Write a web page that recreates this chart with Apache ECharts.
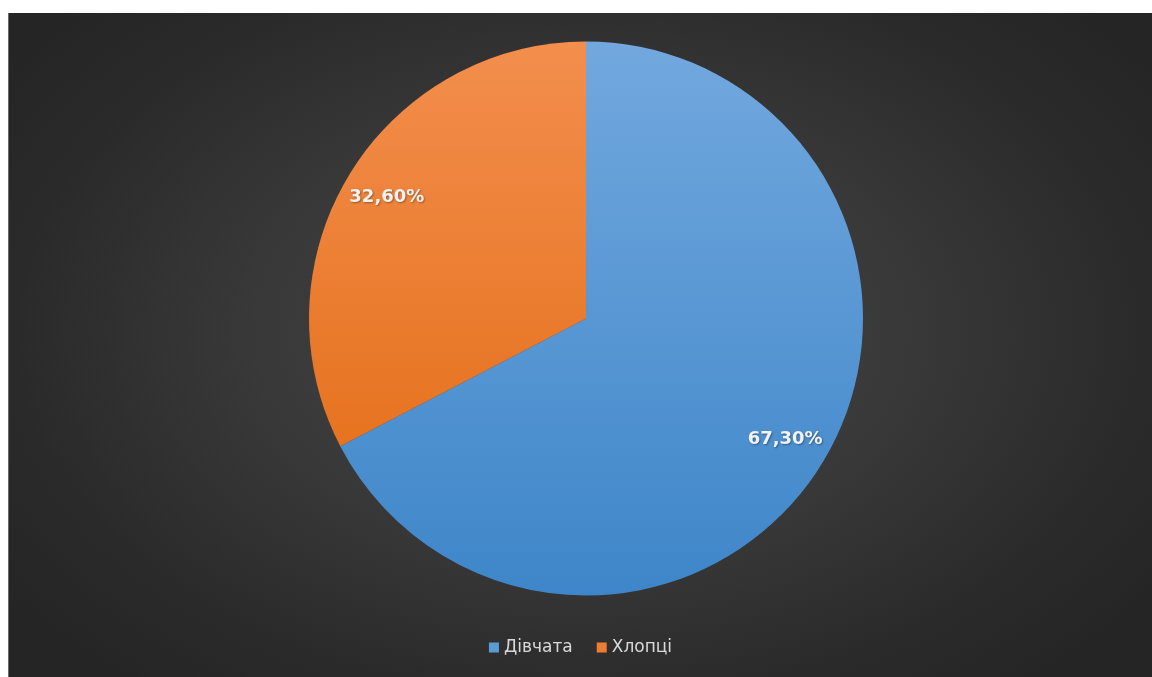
<!DOCTYPE html>
<html>
<head>
<meta charset="utf-8">
<script src="https://cdn.jsdelivr.net/npm/echarts@6/dist/echarts.min.js"></script>
<style>
  html, body { margin: 0; padding: 0; background: #ffffff; width: 1152px; height: 677px; overflow: hidden; }
  #chart {
    position: absolute; left: 8px; top: 13px; width: 1144px; height: 664px;
    background: radial-gradient(ellipse 62% 70% at 50% 48%, #474747 0%, #393939 45%, #2a2a2a 80%, #252525 100%);
    border-left: 1px solid #6a6a6a;
    box-sizing: border-box;
  }
</style>
</head>
<body>
<div id="chart"></div>
<script>
const categories = ['Дівчата', 'Хлопці'];
const values = [67.3, 32.6];
const labelTexts = ['67,30%', '32,60%'];

const colorsTop = ['#72a8de', '#f38e4d'];
const colorsBottom = ['#3e86c9', '#e1690f'];

const chart = echarts.init(document.getElementById('chart'), null, { renderer: 'canvas' });

const cx = 577, cy = 305.5, R = 277;

function grad(i) {
  return {
    type: 'linear', global: true,
    x: 0, y: cy - R, x2: 0, y2: cy + R,
    colorStops: [
      { offset: 0, color: colorsTop[i] },
      { offset: 1, color: colorsBottom[i] }
    ]
  };
}

const pieData = categories.map((c, i) => ({
  name: c, value: values[i],
  itemStyle: { color: grad(i) }
}));
const labelData = categories.map((c, i) => ({
  name: c, value: values[i],
  label: { formatter: labelTexts[i] }
}));

chart.setOption({
  backgroundColor: 'transparent',
  animation: false,
  legend: {
    data: categories.map((c, i) => ({ name: c, itemStyle: { color: i === 0 ? '#5b9bd5' : '#ed7d31' } })),
    left: 'center',
    top: 621,
    icon: 'rect',
    itemWidth: 10,
    itemHeight: 10,
    itemGap: 24,
    textStyle: { color: '#d9d9d9', fontSize: 17, fontFamily: 'DejaVu Sans' }
  },
  series: [
    {
      type: 'pie',
      center: [cx, cy],
      radius: [0, R],
      startAngle: 90,
      clockwise: true,
      silent: true,
      label: { show: false },
      labelLine: { show: false },
      itemStyle: { borderWidth: 0 },
      data: pieData
    },
    {
      type: 'pie',
      center: [cx, cy],
      radius: [183, R],
      startAngle: 90,
      clockwise: true,
      silent: true,
      z: 5,
      legendHoverLink: false,
      itemStyle: { color: 'rgba(0,0,0,0)', borderWidth: 0 },
      label: {
        show: true,
        position: 'inside',
        color: '#f2f2f2',
        fontSize: 18,
        fontWeight: 'bold',
        fontFamily: 'DejaVu Sans',
        textShadowColor: 'rgba(0,0,0,0.35)',
        textShadowBlur: 2,
        textShadowOffsetX: 1,
        textShadowOffsetY: 1
      },
      labelLine: { show: false },
      data: labelData
    }
  ]
});
</script>
</body>
</html>
